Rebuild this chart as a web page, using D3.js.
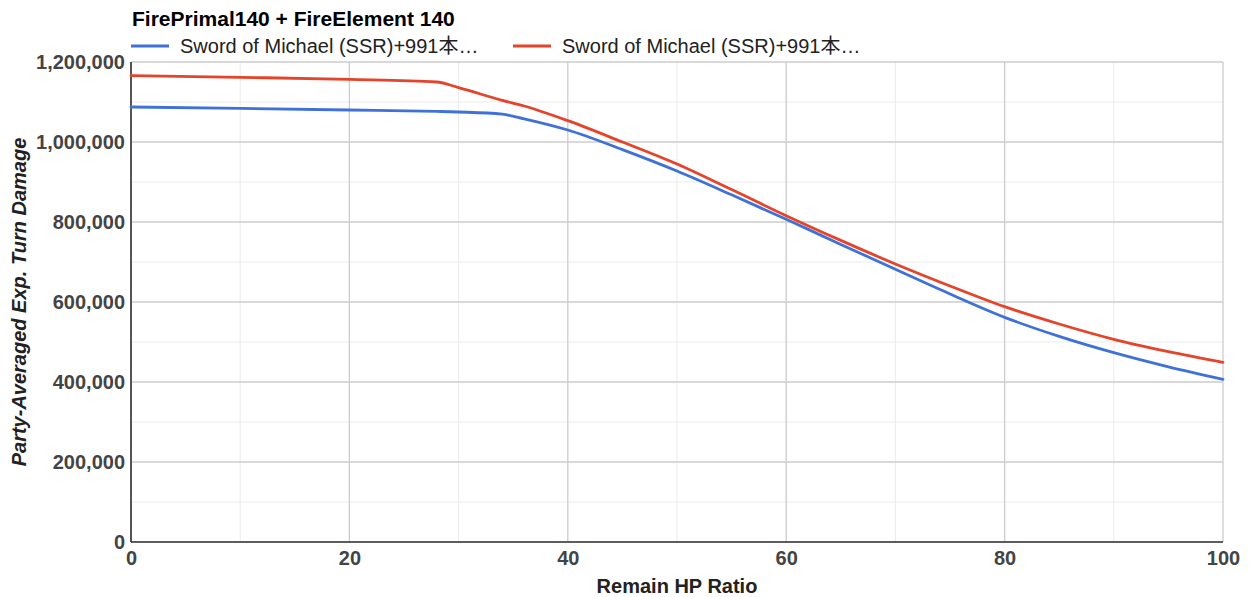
<!DOCTYPE html>
<html>
<head>
<meta charset="utf-8">
<script src="https://cdn.jsdelivr.net/npm/d3@7"></script>
<style>
  body { margin: 0; background: #fff; }
  text { font-family: Arial, "Liberation Sans", "Noto Sans CJK JP", sans-serif; }
</style>
</head>
<body>
<div id="chart"></div>
<script>
var title = "FirePrimal140 + FireElement 140";
var xTitle = "Remain HP Ratio";
var yTitle = "Party-Averaged Exp. Turn Damage";
var seriesNames = ["Sword of Michael (SSR)+991本…", "Sword of Michael (SSR)+991本…"];
var seriesColors = ["#3f71d8", "#e6432b"];

var hpRatio = [0, 10, 20, 28, 30, 34, 36, 40, 45, 50, 55, 60, 65, 70, 75, 80, 85, 90, 95, 100];
var blueValues = [1087500, 1084000, 1080000, 1076500, 1075000, 1069500, 1058000, 1030000, 981000, 927500,
                  868000, 806700, 744000, 681700, 620000, 561700, 514000, 473300, 438000, 406700];
var redValues = [1165800, 1161700, 1156700, 1150000, 1136000, 1104000, 1090000, 1053300, 1000000, 945000,
                 881000, 815800, 754000, 695000, 640000, 588300, 545000, 506700, 476000, 449200];

var xTicks = [0, 20, 40, 60, 80, 100];
var xMinor = [10, 30, 50, 70, 90];
var yTicks = [0, 200000, 400000, 600000, 800000, 1000000, 1200000];
var yMinor = [100000, 300000, 500000, 700000, 900000, 1100000];

var totalWidth = 1250, totalHeight = 597;
var margin = { top: 62, right: 27, bottom: 55, left: 131 };
var width = totalWidth - margin.left - margin.right,
    height = totalHeight - margin.top - margin.bottom;

var svg = d3.select("#chart").append("svg")
    .attr("width", totalWidth)
    .attr("height", totalHeight);

var g = svg.append("g").attr("transform", "translate(" + margin.left + "," + margin.top + ")");

var xScale = d3.scaleLinear().domain([0, 100]).range([0, width]);
var yScale = d3.scaleLinear().domain([0, 1200000]).range([height, 0]);

// minor grid
g.selectAll(".xminor").data(xMinor).enter().append("line")
    .attr("x1", function(d) { return xScale(d); }).attr("x2", function(d) { return xScale(d); })
    .attr("y1", 0).attr("y2", height)
    .attr("stroke", "#ebebeb").attr("stroke-width", 1);
g.selectAll(".yminor").data(yMinor).enter().append("line")
    .attr("y1", function(d) { return yScale(d); }).attr("y2", function(d) { return yScale(d); })
    .attr("x1", 0).attr("x2", width)
    .attr("stroke", "#ebebeb").attr("stroke-width", 1);

// major grid
g.selectAll(".xmajor").data(xTicks).enter().append("line")
    .attr("x1", function(d) { return xScale(d); }).attr("x2", function(d) { return xScale(d); })
    .attr("y1", 0).attr("y2", height)
    .attr("stroke", "#cccccc").attr("stroke-width", 1.3);
g.selectAll(".ymajor").data(yTicks).enter().append("line")
    .attr("y1", function(d) { return yScale(d); }).attr("y2", function(d) { return yScale(d); })
    .attr("x1", 0).attr("x2", width)
    .attr("stroke", "#cccccc").attr("stroke-width", 1.3);

// axes
var fmt = d3.format(",");
var xAxis = g.append("g")
    .attr("transform", "translate(0," + height + ")")
    .call(d3.axisBottom(xScale).tickValues(xTicks).tickSize(0).tickPadding(12));
var yAxis = g.append("g")
    .call(d3.axisLeft(yScale).tickValues(yTicks).tickSize(0).tickPadding(6).tickFormat(fmt));

[xAxis, yAxis].forEach(function(ax) {
    ax.select(".domain").remove();
    ax.selectAll("text")
        .attr("fill", "#444")
        .attr("font-size", 20)
        .attr("font-weight", "bold");
});
xAxis.selectAll("text").attr("dy", "0.71em").attr("y", 9);

g.append("line").attr("x1", 0).attr("x2", 0).attr("y1", 0).attr("y2", height)
    .attr("stroke", "#333").attr("stroke-width", 1.6);
g.append("line").attr("x1", 0).attr("x2", width).attr("y1", height).attr("y2", height)
    .attr("stroke", "#333").attr("stroke-width", 1.6);

// series
var series = [blueValues, redValues].map(function(vals) {
    return hpRatio.map(function(x, i) { return { x: x, y: vals[i] }; });
});

var line = d3.line()
    .curve(d3.curveMonotoneX)
    .x(function(d) { return xScale(d.x); })
    .y(function(d) { return yScale(d.y); });

g.selectAll(".curve").data(series).enter().append("path")
    .attr("class", "curve")
    .attr("fill", "none")
    .attr("stroke", function(d, i) { return seriesColors[i]; })
    .attr("stroke-width", 2.8)
    .attr("stroke-linejoin", "round")
    .attr("stroke-linecap", "round")
    .attr("d", line);

// title
svg.append("text")
    .attr("x", 132).attr("y", 26)
    .attr("font-size", 21).attr("font-weight", "bold").attr("fill", "#000")
    .text(title);

// legend
var legendX = [131, 513];
var legend = svg.selectAll(".legend").data(seriesNames).enter().append("g")
    .attr("transform", function(d, i) { return "translate(" + legendX[i] + ",46)"; });
legend.append("line")
    .attr("x1", 0).attr("x2", 38).attr("y1", 0).attr("y2", 0)
    .attr("stroke", function(d, i) { return seriesColors[i]; })
    .attr("stroke-width", 3);
legend.append("text")
    .attr("x", 49).attr("y", 6.5)
    .attr("font-size", 20).attr("fill", "#222")
    .text(function(d) { return d; });

// axis titles
svg.append("text")
    .attr("x", margin.left + width / 2).attr("y", 593)
    .attr("text-anchor", "middle")
    .attr("font-size", 20).attr("font-weight", "bold").attr("fill", "#222")
    .text(xTitle);

svg.append("text")
    .attr("transform", "translate(26," + (margin.top + height / 2) + ") rotate(-90)")
    .attr("text-anchor", "middle")
    .attr("font-size", 20).attr("font-weight", "bold").attr("font-style", "italic").attr("fill", "#222")
    .text(yTitle);
</script>
</body>
</html>
